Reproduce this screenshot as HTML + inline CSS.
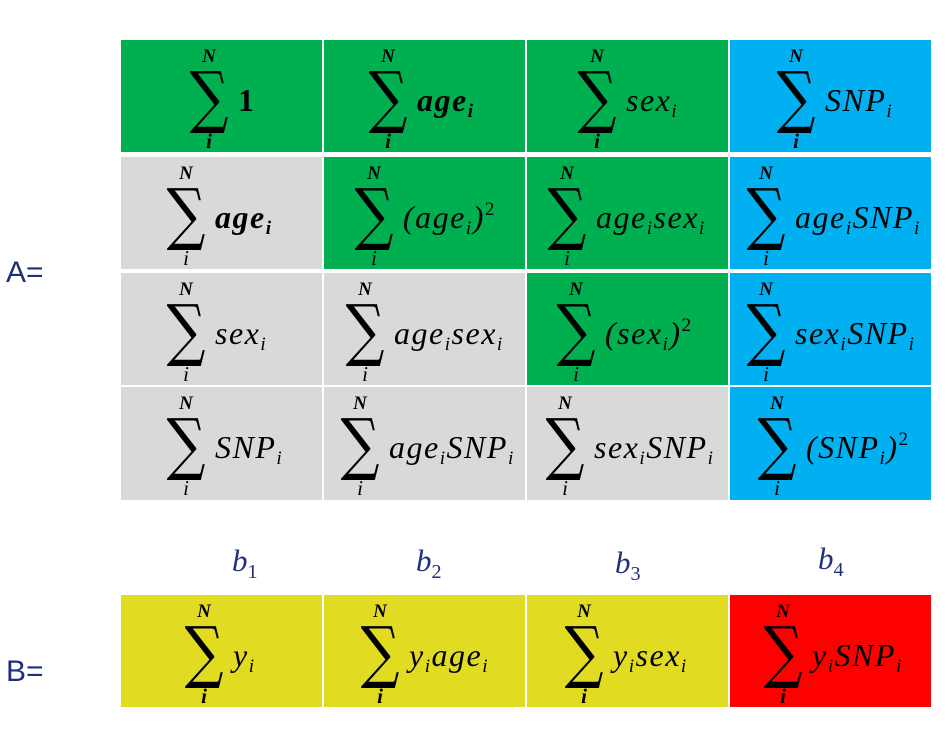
<!DOCTYPE html>
<html><head><meta charset="utf-8"><style>
body{margin:0;width:950px;height:750px;background:#fff;position:relative;overflow:hidden;font-family:"Liberation Serif",serif}
.cell{position:absolute;width:201px}
.g{background:#00b050}.gr{background:#d9d9d9}.bl{background:#00b0f0}.y{background:#e1dc22}.r{background:#ff0000}
.n{position:absolute;font:italic bold 19px "Liberation Serif",serif;transform:translateX(-50%)}
.i{position:absolute;font:italic 21px "Liberation Serif",serif;transform:translateX(-50%)}
.ib{font-weight:bold}
.sig{position:absolute;font:68px "DejaVu Serif",serif;transform:translateX(-50%) scaleX(0.8);line-height:1}
.ex{position:absolute;font:italic 32px "Liberation Serif",serif;white-space:nowrap;letter-spacing:1.5px}
.ex sub{font-size:60%;vertical-align:-6px}.ex sup{font-size:60%;vertical-align:13px;font-style:normal}
.bold{font-weight:bold}
.lab{position:absolute;font:30px "Liberation Sans",sans-serif;color:#1f2f7a}
.b{position:absolute;font:italic 31px "Liberation Serif",serif;color:#1f2f7a}
.b sub{font-size:65%;font-style:normal;vertical-align:-7px}
</style></head><body>
<div class="lab" style="left:6px;top:256px">A=</div>
<div class="lab" style="left:6px;top:655px">B=</div>
<div class="b" style="left:232px;top:543px">b<sub>1</sub></div>
<div class="b" style="left:416px;top:543px">b<sub>2</sub></div>
<div class="b" style="left:615px;top:545px">b<sub>3</sub></div>
<div class="b" style="left:818px;top:541px">b<sub>4</sub></div>
<div id="root"></div>
<script>
const cols=[121,324,527,730];
const rows=[[40,112],[157,112],[273,112],[387,113],[595,112]];
const cells=[
[0,0,'g',209,'<span class="bold" style="font-style:normal">1</span>',1,'cell-sum-1'],
[0,1,'g',388,'<span class="bold">age<sub>i</sub></span>',1,'cell-sum-age'],
[0,2,'g',597,'sex<sub>i</sub>',1,'cell-sum-sex'],
[0,3,'bl',796,'SNP<sub>i</sub>',1,'cell-sum-snp'],
[1,0,'gr',186,'<span class="bold">age<sub>i</sub></span>',0,'cell-a21'],
[1,1,'g',374,'(age<sub>i</sub>)<sup>2</sup>',0,'cell-a22'],
[1,2,'g',567,'age<sub>i</sub>sex<sub>i</sub>',0,'cell-a23'],
[1,3,'bl',766,'age<sub>i</sub>SNP<sub>i</sub>',0,'cell-a24'],
[2,0,'gr',186,'sex<sub>i</sub>',0,'cell-a31'],
[2,1,'gr',365,'age<sub>i</sub>sex<sub>i</sub>',0,'cell-a32'],
[2,2,'g',576,'(sex<sub>i</sub>)<sup>2</sup>',0,'cell-a33'],
[2,3,'bl',766,'sex<sub>i</sub>SNP<sub>i</sub>',0,'cell-a34'],
[3,0,'gr',186,'SNP<sub>i</sub>',0,'cell-a41'],
[3,1,'gr',360,'age<sub>i</sub>SNP<sub>i</sub>',0,'cell-a42'],
[3,2,'gr',565,'sex<sub>i</sub>SNP<sub>i</sub>',0,'cell-a43'],
[3,3,'bl',777,'(SNP<sub>i</sub>)<sup>2</sup>',0,'cell-a44'],
[4,0,'y',204,'y<sub>i</sub>',1,'cell-b1'],
[4,1,'y',380,'y<sub>i</sub>age<sub>i</sub>',1,'cell-b2'],
[4,2,'y',584,'y<sub>i</sub>sex<sub>i</sub>',1,'cell-b3'],
[4,3,'r',783,'y<sub>i</sub>SNP<sub>i</sub>',1,'cell-b4']];
const root=document.getElementById('root');
for(const c of cells){
 const [r,k,cls,sx,ex,bi,name]=c;
 const d=document.createElement('div');
 d.className='cell '+cls;
 
 
 const x0=cols[k],t=rows[r][0];
 d.style.left=x0+'px';d.style.top=t+'px';d.style.height=rows[r][1]+'px';
 const lx=sx-x0;
 d.innerHTML='<div class="n" style="left:'+lx+'px;top:6px">N</div>'+
  '<div class="sig" style="left:'+lx+'px;top:24px">∑</div>'+
  '<div class="i'+(bi?' ib':'')+'" style="left:'+lx+'px;top:89px">i</div>'+
  '<div class="ex" style="left:'+(lx+29)+'px;top:42px">'+ex+'</div>';
 root.appendChild(d);
}
</script>
</body></html>
